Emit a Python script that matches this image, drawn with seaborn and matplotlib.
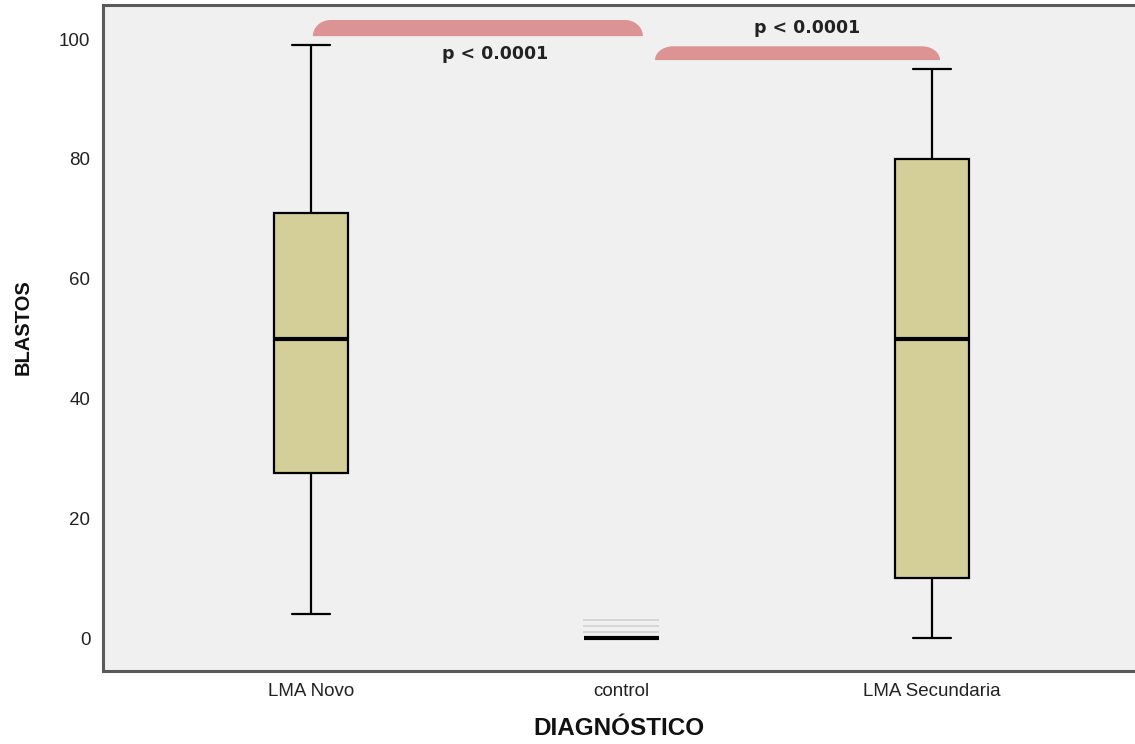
import numpy as np
import pandas as pd
import matplotlib
matplotlib.use("Agg")
import matplotlib.pyplot as plt
import seaborn as sns

# Blast percentages per diagnosis group (five-number summaries; control also has a few low outliers)
categories = ["LMA Novo", "control", "LMA Secundaria"]
lma_novo = [4, 27.5, 50, 71, 99]
control = [0] * 20 + [1, 2, 3]
lma_secundaria = [0, 10, 50, 80, 95]

y_ticks = [0, 20, 40, 60, 80, 100]

# Pairwise comparisons shown as brackets above the boxes
comparisons = [("LMA Novo", "control"), ("control", "LMA Secundaria")]
p_labels = ["p < 0.0001", "p < 0.0001"]

df = pd.DataFrame({
    "DIAGNÓSTICO": (["LMA Novo"] * len(lma_novo)
                    + ["control"] * len(control)
                    + ["LMA Secundaria"] * len(lma_secundaria)),
    "BLASTOS": lma_novo + control + lma_secundaria,
})

sns.set_theme(style="white")
plt.rcParams["font.family"] = ["Liberation Sans", "DejaVu Sans"]

W, H = 1135, 744
fig = plt.figure(figsize=(W / 100, H / 100), dpi=100, facecolor="white")
ax = fig.add_axes([103 / W, 1 - 671 / H, 1 - 103 / W, (671 - 5) / H])
ax.set_facecolor("#F0F0F0")

sns.boxplot(
    data=df, x="DIAGNÓSTICO", y="BLASTOS", order=categories, ax=ax,
    color="#D4CE98", saturation=1, width=0.24, linecolor="black", linewidth=1.6,
    medianprops=dict(color="black", linewidth=3.0),
    flierprops=dict(marker="_", markersize=55, markeredgecolor="#D6D6D6",
                    markeredgewidth=1.4),
)

ax.set_xlim(-0.67, 2.654)
ax.set_ylim(-5.5, 105.7)
ax.set_yticks(y_ticks)
ax.set_yticklabels([str(t) for t in y_ticks])

spine_color = "#5A5A5A"
for side in ("left", "bottom", "top"):
    ax.spines[side].set_visible(True)
    ax.spines[side].set_color(spine_color)
    ax.spines[side].set_linewidth(2.2)
ax.spines["right"].set_visible(False)

ax.tick_params(axis="both", which="both", direction="out", length=5, width=1.4,
               color="#333333", labelsize=13.5, labelcolor="#222222", pad=4)
ax.tick_params(axis="x", pad=4)

ax.set_xlabel("DIAGNÓSTICO", fontsize=17.5, fontweight="bold", color="#111111",
              va="center")
ax.set_ylabel("BLASTOS", fontsize=14.5, fontweight="bold", color="#111111",
              va="center")
ax.xaxis.set_label_coords(0.5, -0.087)
ax.yaxis.set_label_coords(-0.0775, 0.516)

# Significance brackets: bars with rounded top corners
bracket_color = "#DC9394"
px_per_x = (932 - 311) / 2.0
bracket_y = [(100.5, 103.2), (96.5, 98.8)]
x_pad = [(0.006, 0.069), (0.108, 0.026)]
text_y = [97.6, 101.9]
text_dx = [0.055, 0.03]
t = np.linspace(0, np.pi / 2, 30)
for (a, b), label, (y0, y1), (pl, pr), ty, dx in zip(
        comparisons, p_labels, bracket_y, x_pad, text_y, text_dx):
    x0 = categories.index(a) + pl
    x1 = categories.index(b) + pr
    rx = 18 / px_per_x
    ry = y1 - y0
    left_x = x0 + rx - rx * np.cos(t)
    left_y = y0 + ry * np.sin(t)
    right_x = x1 - rx + rx * np.sin(t)
    right_y = y0 + ry * np.cos(t)
    xs = np.concatenate([[x0], left_x, right_x, [x1]])
    ys = np.concatenate([[y0], left_y, right_y, [y0]])
    ax.fill(xs, ys, color=bracket_color, lw=0, zorder=5, clip_on=False)
    ax.text((x0 + x1) / 2 + dx, ty, label, ha="center", va="center",
            fontsize=12.5, fontweight="bold", color="#222222",
            family=["DejaVu Sans"], zorder=6)

fig.savefig("out.png", dpi=100, facecolor="white")
